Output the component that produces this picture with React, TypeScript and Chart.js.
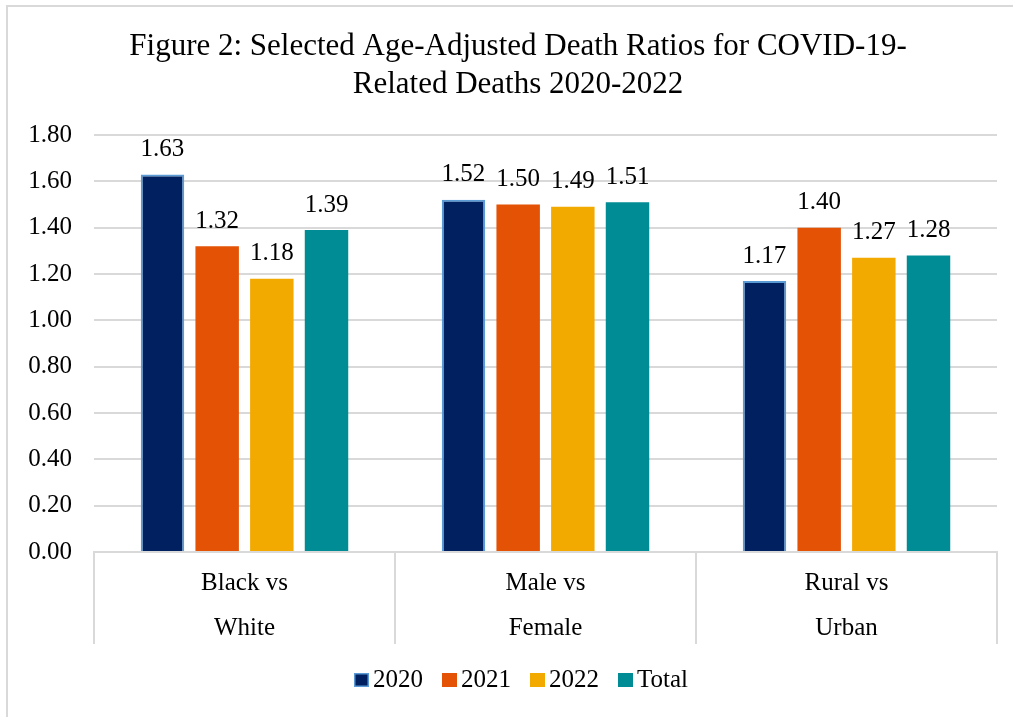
import React, { useEffect, useRef } from "react";
import { Chart, registerables } from "chart.js";

Chart.register(...registerables);

const titleLines = [
  "Figure 2: Selected Age-Adjusted Death Ratios for COVID-19-",
  "Related Deaths 2020-2022",
];
const categories = [
  ["Black vs", "White"],
  ["Male vs", "Female"],
  ["Rural vs", "Urban"],
];
const seriesNames = ["2020", "2021", "2022", "Total"];
const values2020 = [1.63, 1.52, 1.17];
const values2021 = [1.32, 1.5, 1.4];
const values2022 = [1.18, 1.49, 1.27];
const valuesTotal = [1.39, 1.51, 1.28];
const yMin = 0;
const yMax = 1.8;
const yStep = 0.2;

const FONT = "'Liberation Serif', 'Times New Roman', serif";

const valueLabels = {
  id: "valueLabels",
  afterDatasetsDraw(chart: any) {
    const ctx = chart.ctx;
    ctx.save();
    ctx.font = `25px ${FONT}`;
    ctx.fillStyle = "#000";
    ctx.textAlign = "center";
    ctx.textBaseline = "middle";
    chart.getSortedVisibleDatasetMetas().forEach((meta: any) => {
      const ds = chart.data.datasets[meta.index];
      meta.data.forEach((el: any, i: number) => {
        const v = ds.data[i] as number;
        ctx.fillText(v.toFixed(2), el.x, el.y - 25);
      });
    });
    ctx.restore();
  },
};

// Title and legend drawn centred on the (cropped) Excel chart frame
const frameCenterX = 518;

const figureTitle = {
  id: "figureTitle",
  afterDraw(chart: any) {
    const ctx = chart.ctx;
    ctx.save();
    ctx.font = `31px ${FONT}`;
    ctx.fillStyle = "#000";
    ctx.textAlign = "center";
    ctx.textBaseline = "middle";
    titleLines.forEach((line, i) => {
      ctx.fillText(line, frameCenterX, 47 + i * 38);
    });
    ctx.restore();
  },
};

const bottomLegend = {
  id: "bottomLegend",
  afterDraw(chart: any) {
    const ctx = chart.ctx;
    const ds = chart.data.datasets;
    ctx.save();
    ctx.font = `25px ${FONT}`;
    ctx.textBaseline = "middle";
    ctx.textAlign = "left";
    const box = 15;
    const gapText = 4;
    const gapItem = 19;
    const widths = ds.map((d: any) => box + gapText + ctx.measureText(d.label).width);
    const total = widths.reduce((a: number, b: number) => a + b, 0) + gapItem * (ds.length - 1);
    let x = frameCenterX + 3 - total / 2;
    const y = chart.chartArea.bottom + 128;
    ds.forEach((d: any, i: number) => {
      ctx.fillStyle = d.backgroundColor;
      ctx.fillRect(x, y - 7, box, 14);
      if (d.borderWidth > 0) {
        ctx.strokeStyle = d.borderColor;
        ctx.lineWidth = 1.5;
        ctx.strokeRect(x + 0.75, y - 6.25, box - 1.5, 12.5);
      }
      ctx.fillStyle = "#000";
      ctx.fillText(d.label, x + box + gapText, y);
      x += widths[i] + gapItem;
    });
    ctx.restore();
  },
};

export default function App() {
  const ref = useRef<HTMLCanvasElement>(null);

  useEffect(() => {
    if (!ref.current) return;
    const seriesValues = [values2020, values2021, values2022, valuesTotal];
    const colors = ["#002060", "#E35205", "#F2A900", "#008C95"];
    const chart = new Chart(ref.current, {
      type: "bar",
      data: {
        labels: categories,
        datasets: seriesNames.map((name, i) => ({
          label: name,
          data: seriesValues[i],
          backgroundColor: colors[i],
          borderColor: i === 0 ? "#5B9BD5" : colors[i],
          borderWidth: i === 0 ? 2 : 0,
          categoryPercentage: 0.7265,
          barPercentage: 0.795,
        })),
      },
      options: {
        responsive: false,
        animation: false,
        devicePixelRatio: 1,
        layout: { padding: { left: 0, right: 16, top: 135, bottom: 60.5 } },
        plugins: {
          title: { display: false },
          legend: { display: false },
          tooltip: { enabled: false },
        },
        scales: {
          x: {
            grid: {
              offset: true,
              drawOnChartArea: false,
              drawTicks: true,
              tickLength: 92,
              color: "#d9d9d9",
              lineWidth: 2,
            },
            border: { display: true, color: "#d9d9d9", width: 2 },
            ticks: {
              color: "#000",
              font: { family: FONT, size: 25, lineHeight: 1.8 },
              padding: -83.5,
              maxRotation: 0,
              autoSkip: false,
            },
            afterFit: (s: any) => {
              s.height = 104.5;
            },
          },
          y: {
            min: yMin,
            max: yMax,
            ticks: {
              stepSize: yStep,
              color: "#000",
              font: { family: FONT, size: 25 },
              padding: 22,
              callback: (v: any) => Number(v).toFixed(2),
            },
            grid: { color: "#d9d9d9", lineWidth: 2, drawTicks: false },
            border: { display: false },
            afterFit: (s: any) => {
              s.width = 94;
            },
          },
        },
      },
      plugins: [valueLabels, figureTitle, bottomLegend],
    });
    return () => chart.destroy();
  }, []);

  return (
    <div
      style={{
        position: "fixed",
        left: 0,
        top: 0,
        width: 1013,
        height: 717,
        background: "#fff",
        overflow: "hidden",
      }}
    >
      <div
        style={{
          position: "absolute",
          left: 6,
          top: 5,
          width: 1100,
          height: 800,
          borderTop: "2px solid #d9d9d9",
          borderLeft: "2px solid #d9d9d9",
        }}
      />
      <canvas
        ref={ref}
        width={1013}
        height={717}
        style={{ position: "absolute", left: 0, top: 0, width: 1013, height: 717 }}
      />
    </div>
  );
}
